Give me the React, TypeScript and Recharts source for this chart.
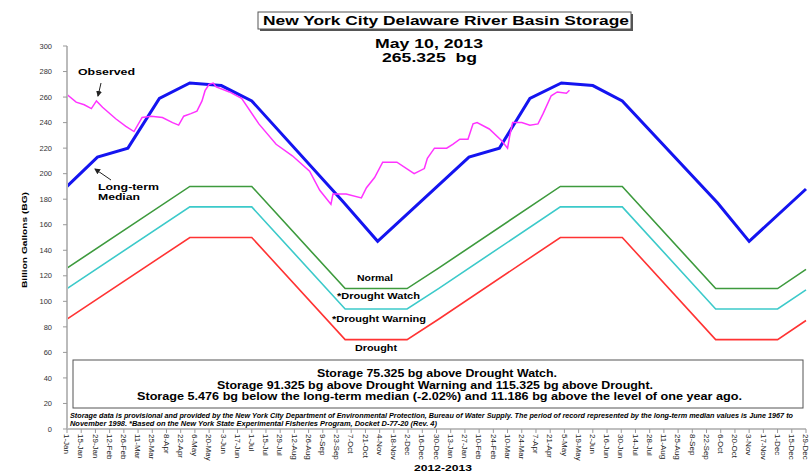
import { LineChart, Line, XAxis, YAxis } from 'recharts';

// day index counted from 1-Jan-2012, values in billion gallons
const TICK_LABELS = [
  '1-Jan', '15-Jan', '29-Jan', '12-Feb', '26-Feb', '11-Mar', '25-Mar', '8-Apr', '22-Apr', '6-May',
  '20-May', '3-Jun', '17-Jun', '1-Jul', '15-Jul', '29-Jul', '12-Aug', '26-Aug', '9-Sep', '23-Sep',
  '7-Oct', '21-Oct', '4-Nov', '18-Nov', '2-Dec', '16-Dec', '30-Dec',
  '13-Jan', '27-Jan', '10-Feb', '24-Feb', '10-Mar', '24-Mar', '7-Apr', '21-Apr', '5-May',
  '19-May', '2-Jun', '16-Jun', '30-Jun', '14-Jul', '28-Jul', '11-Aug', '25-Aug', '8-Sep',
  '22-Sep', '6-Oct', '20-Oct', '3-Nov', '17-Nov', '1-Dec', '15-Dec', '29-Dec',
];
const X_TICKS = TICK_LABELS.map((_, i) => i * 14);
const Y_TICKS = [0, 20, 40, 60, 80, 100, 120, 140, 160, 180, 200, 220, 240, 260, 280, 300];

const MEDIAN: [number, number][] = [
  [0, 190], [30, 213], [60, 220], [91, 259], [121, 271], [152, 269], [182, 257], [272, 178],
  [306, 147], [396, 213], [426, 220], [456, 259], [487, 271], [518, 269], [547, 257], [641, 177],
  [672, 147], [728, 188],
];

const OBSERVED: [number, number][] = [
  [0, 262], [9, 256], [17, 254], [24, 251], [29, 257], [35, 252], [48, 243], [58, 237], [66, 233],
  [74, 244], [83, 245], [94, 244], [104, 240], [110, 238], [115, 245], [122, 247], [128, 249],
  [133, 257], [136, 265], [140, 270], [144, 271], [147, 268], [160, 264], [172, 259], [189, 239],
  [206, 223], [222, 214], [239, 202], [249, 187], [260, 176], [262, 184], [275, 184], [290, 181],
  [295, 189], [303, 197], [311, 209], [325, 209], [342, 200], [352, 204], [355, 212], [362, 220],
  [374, 220], [380, 223], [387, 227], [395, 227], [400, 239], [404, 240], [416, 235], [428, 226],
  [434, 220], [436, 229], [439, 240], [448, 240], [456, 238], [464, 239], [469, 247], [477, 261],
  [483, 264], [492, 263], [495, 265.3],
];

const RULE_DAYS = [0, 121, 182, 274, 335, 366, 486, 547, 639, 700, 728];
const WATCH = [126, 190, 190, 110, 110, 126, 190, 190, 110, 110, 125];
const WARNING = [110, 174, 174, 94, 94, 110, 174, 174, 94, 94, 109];
const DROUGHT = [86, 150, 150, 70, 70, 86, 150, 150, 70, 70, 85];

const toRows = (pairs: [number, number][]) => pairs.map(([day, value]) => ({ day, value }));
const ruleRows = (values: number[]) => RULE_DAYS.map((day, i) => ({ day, value: values[i] }));

const FONT = '"Liberation Sans", Arial, Helvetica, sans-serif';

function DateTick(props: any) {
  const { x, y, payload } = props;
  const label = TICK_LABELS[Math.round(payload.value / 14)];
  return (
    <text
      x={x}
      y={y}
      dy="0.35em"
      transform={`rotate(90, ${x}, ${y})`}
      textAnchor="start"
      fontSize={8}
      fontFamily={FONT}
      fill="#222"
    >
      {label}
    </text>
  );
}

function Overlay() {
  return (
    <svg width={812} height={476} style={{ position: 'absolute', left: 0, top: 0, pointerEvents: 'none' }}>
      <defs>
        <marker id="head" markerWidth="6" markerHeight="6" refX="5" refY="3" orient="auto">
          <path d="M0,0 L6,3 L0,6 z" fill="#222" />
        </marker>
      </defs>
      {/* title box */}
      <rect x={260} y={14} width={373} height={17} fill="#555" />
      <rect x={258} y={12} width={373} height={17} fill="#fff" stroke="#555" strokeWidth={1} />
      <text x={263} y={25} fontSize={12} fontWeight="bold" fontFamily={FONT} textLength={366} lengthAdjust="spacingAndGlyphs">
        New York City Delaware River Basin Storage
      </text>
      <text x={429} y={48} textAnchor="middle" fontSize={12.5} fontWeight="bold" fontFamily={FONT} textLength={108} lengthAdjust="spacingAndGlyphs">
        May 10, 2013
      </text>
      <text x={429.5} y={62} textAnchor="middle" fontSize={12.5} fontWeight="bold" fontFamily={FONT} textLength={95} lengthAdjust="spacingAndGlyphs" xmlSpace="preserve">
        265.325  bg
      </text>

      {/* annotations */}
      <text x={78} y={75} fontSize={9} fontWeight="bold" fontFamily={FONT} textLength={57} lengthAdjust="spacingAndGlyphs">Observed</text>
      <line x1={101} y1={83} x2={98} y2={96} stroke="#222" strokeWidth={1} markerEnd="url(#head)" />
      <text x={98} y={190} fontSize={9} fontWeight="bold" fontFamily={FONT} textLength={61} lengthAdjust="spacingAndGlyphs">Long-term</text>
      <text x={98} y={200} fontSize={9} fontWeight="bold" fontFamily={FONT} textLength={42} lengthAdjust="spacingAndGlyphs">Median</text>
      <line x1={111} y1={180} x2={95} y2={169} stroke="#222" strokeWidth={1} markerEnd="url(#head)" />

      <text x={357} y={281} fontSize={8.5} fontWeight="bold" fontFamily={FONT} textLength={36} lengthAdjust="spacingAndGlyphs">Normal</text>
      <text x={337} y={299} fontSize={8.5} fontWeight="bold" fontFamily={FONT} textLength={83} lengthAdjust="spacingAndGlyphs">*Drought Watch</text>
      <text x={332} y={322} fontSize={8.5} fontWeight="bold" fontFamily={FONT} textLength={94} lengthAdjust="spacingAndGlyphs">*Drought Warning</text>
      <text x={355} y={351} fontSize={8.5} fontWeight="bold" fontFamily={FONT} textLength={42} lengthAdjust="spacingAndGlyphs">Drought</text>

      {/* status box */}
      <rect x={73} y={360} width={730} height={48} fill="#fff" stroke="#555" strokeWidth={1} />
      <text x={317} y={377} fontSize={10.5} fontWeight="bold" fontFamily={FONT} textLength={240} lengthAdjust="spacingAndGlyphs">
        Storage 75.325 bg above Drought Watch.
      </text>
      <text x={217} y={389} fontSize={10.5} fontWeight="bold" fontFamily={FONT} textLength={436} lengthAdjust="spacingAndGlyphs">
        Storage 91.325 bg above Drought Warning and 115.325 bg above Drought.
      </text>
      <text x={137} y={399.5} fontSize={10.5} fontWeight="bold" fontFamily={FONT} textLength={605} lengthAdjust="spacingAndGlyphs">
        Storage 5.476 bg below the long-term median (-2.02%) and 11.186 bg above the level of one year ago.
      </text>

      {/* notes */}
      <text x={70} y={418} fontSize={6.3} fontWeight="bold" fontStyle="italic" fontFamily={FONT} textLength={723} lengthAdjust="spacingAndGlyphs">
        Storage data is provisional and provided by the New York City Department of Environmental Protection, Bureau of Water Supply. The period of record represented by the long-term median values is June 1967 to
      </text>
      <text x={70} y={425.5} fontSize={6.3} fontWeight="bold" fontStyle="italic" fontFamily={FONT} textLength={367} lengthAdjust="spacingAndGlyphs">
        November 1998. *Based on the New York State Experimental Fisheries Program, Docket D-77-20 (Rev. 4)
      </text>

      {/* axis titles */}
      <text x={414} y={471} fontSize={9.5} fontWeight="bold" fontFamily={FONT} textLength={58} lengthAdjust="spacingAndGlyphs">2012-2013</text>
      <text
        x={27}
        y={240}
        transform="rotate(-90, 27, 240)"
        textAnchor="middle"
        fontSize={8}
        fontWeight="bold"
        fontFamily={FONT}
        textLength={96}
        lengthAdjust="spacingAndGlyphs"
      >
        Billion Gallons (BG)
      </text>
    </svg>
  );
}

export default function App() {
  return (
    <div style={{ position: 'relative', width: 812, height: 476, background: '#fff', fontFamily: FONT }}>
      <style>{'body{margin:0}'}</style>
      <LineChart width={812} height={476} margin={{ top: 46, right: 6, bottom: 0, left: 0 }}>
        <XAxis
          type="number"
          dataKey="day"
          domain={[0, 728]}
          ticks={X_TICKS}
          interval={0}
          height={47}
          tick={<DateTick />}
          tickSize={4}
          tickMargin={1}
          stroke="#999"
          axisLine={{ stroke: '#aaa', strokeWidth: 1.5 }}
          tickLine={{ stroke: '#999' }}
        />
        <YAxis
          type="number"
          domain={[0, 300]}
          ticks={Y_TICKS}
          interval={0}
          width={67}
          tickSize={4}
          tickMargin={11}
          tick={{ fontSize: 7.5, fill: '#333', fontFamily: FONT }}
          axisLine={{ stroke: '#bbb', strokeWidth: 2 }}
          tickLine={{ stroke: '#999' }}
        />
        <Line data={ruleRows(WATCH)} dataKey="value" stroke="#3d9a3d" strokeWidth={1.6} dot={false} isAnimationActive={false} />
        <Line data={ruleRows(WARNING)} dataKey="value" stroke="#3ccaca" strokeWidth={1.6} dot={false} isAnimationActive={false} />
        <Line data={ruleRows(DROUGHT)} dataKey="value" stroke="#ff3333" strokeWidth={1.6} dot={false} isAnimationActive={false} />
        <Line data={toRows(MEDIAN)} dataKey="value" stroke="#1414f0" strokeWidth={3} dot={false} isAnimationActive={false} />
        <Line data={toRows(OBSERVED)} dataKey="value" stroke="#ff33ff" strokeWidth={1.5} dot={false} isAnimationActive={false} />
      </LineChart>
      <Overlay />
    </div>
  );
}
